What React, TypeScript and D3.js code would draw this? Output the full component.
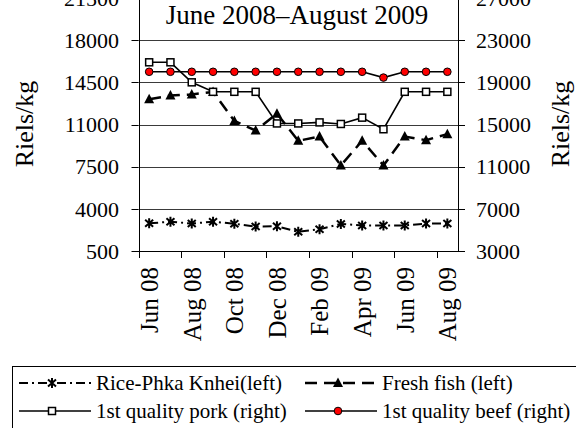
import React, { useRef, useEffect } from "react";
import { select, scaleBand, scaleLinear, line } from "d3";

const months = [
  "Jun 08", "Jul 08", "Aug 08", "Sep 08", "Oct 08", "Nov 08", "Dec 08", "Jan 09",
  "Feb 09", "Mar 09", "Apr 09", "May 09", "Jun 09", "Jul 09", "Aug 09",
];
const labelMonths = ["Jun 08", "Aug 08", "Oct 08", "Dec 08", "Feb 09", "Apr 09", "Jun 09", "Aug 09"];
const leftTicks = [500, 4000, 7500, 11000, 14500, 18000, 21500];
const rightTicks = [3000, 7000, 11000, 15000, 19000, 23000, 27000];

// left axis series
const rice = [2800, 2930, 2780, 2930, 2760, 2530, 2550, 2100, 2300, 2750, 2620, 2620, 2620, 2780, 2780];
const fish = [13100, 13400, 13500, 13700, 11300, 10500, 11900, 9650, 10000, 7600, 9650, 7600, 10000, 9700, 10200];
// right axis series
const pork = [20900, 20900, 19000, 18100, 18100, 18100, 15100, 15100, 15200, 15050, 15650, 14550, 18100, 18100, 18100];
const beef = [20000, 20000, 20000, 20000, 20000, 20000, 20000, 20000, 20000, 20000, 20000, 19450, 20000, 20000, 20000];

const title = "June 2008\u2013August 2009";
const axisTitle = "Riels/kg";

const W = 576;
const H = 428;
const FONT = "Liberation Serif, Times New Roman, Times, DejaVu Serif, serif";

const starPath = "M-4,-3.5L4,3.5M-4,3.5L4,-3.5M0,-5L0,5";
const triPath = "M0,-5.5L5,4L-5,4Z";

const App = () => {
  const ref = useRef(null);

  useEffect(() => {
    const svg = select(ref.current);
    svg.selectAll("*").remove();

    const left = 138.5;
    const right = 458;
    const top = -2;
    const bottom = 251;

    const x = scaleBand().domain(months).range([left, right]).padding(0);
    const cx = (m) => x(m) + x.bandwidth() / 2;
    const yL = scaleLinear().domain([500, 21500]).range([bottom, top]);
    const yR = scaleLinear().domain([3000, 27000]).range([bottom, top]);
    const px = (v) => Math.round(v) + 0.5;

    // gridlines
    svg.append("g")
      .selectAll("line")
      .data(leftTicks)
      .enter()
      .append("line")
      .attr("x1", left)
      .attr("x2", right)
      .attr("y1", (d) => px(yL(d)))
      .attr("y2", (d) => px(yL(d)))
      .attr("stroke", "#3a3a3a")
      .attr("stroke-width", 1);

    // axis lines
    svg.append("line").attr("x1", px(left)).attr("x2", px(left)).attr("y1", top).attr("y2", px(bottom)).attr("stroke", "#000");
    svg.append("line").attr("x1", px(right)).attr("x2", px(right)).attr("y1", top).attr("y2", px(bottom)).attr("stroke", "#000");
    svg.append("line").attr("x1", left - 6).attr("x2", right + 7).attr("y1", px(bottom)).attr("y2", px(bottom)).attr("stroke", "#000");

    // left ticks + labels
    const gl = svg.append("g");
    leftTicks.forEach((t) => {
      gl.append("line").attr("x1", left - 7).attr("x2", left).attr("y1", px(yL(t))).attr("y2", px(yL(t))).attr("stroke", "#000");
      gl.append("text")
        .attr("x", 119)
        .attr("y", yL(t))
        .attr("dy", "0.35em")
        .attr("text-anchor", "end")
        .attr("font-size", 22)
        .attr("fill", "#000")
        .text(t);
    });

    // right ticks + labels
    const gr = svg.append("g");
    rightTicks.forEach((t) => {
      gr.append("line").attr("x1", right).attr("x2", right + 7).attr("y1", px(yR(t))).attr("y2", px(yR(t))).attr("stroke", "#000");
      gr.append("text")
        .attr("x", 476)
        .attr("y", yR(t))
        .attr("dy", "0.35em")
        .attr("text-anchor", "start")
        .attr("font-size", 22)
        .attr("fill", "#000")
        .text(t);
    });

    // x ticks every 2 months
    const gx = svg.append("g");
    months.forEach((m, i) => {
      if (i % 2 === 0) {
        gx.append("line").attr("x1", px(x(m))).attr("x2", px(x(m))).attr("y1", bottom).attr("y2", bottom + 7).attr("stroke", "#000");
      }
    });
    labelMonths.forEach((m) => {
      gx.append("text")
        .attr("transform", `translate(${cx(m)}, 267) rotate(-90)`)
        .attr("dy", "0.35em")
        .attr("text-anchor", "end")
        .attr("font-size", 25)
        .attr("fill", "#000")
        .text(m);
    });

    // axis titles
    svg.append("text")
      .attr("transform", `translate(24, 124) rotate(-90)`)
      .attr("dy", "0.35em")
      .attr("text-anchor", "middle")
      .attr("font-size", 26)
      .text(axisTitle);
    svg.append("text")
      .attr("transform", `translate(560, 124) rotate(-90)`)
      .attr("dy", "0.35em")
      .attr("text-anchor", "middle")
      .attr("font-size", 26)
      .text(axisTitle);

    // title
    svg.append("text")
      .attr("x", 297)
      .attr("y", 24)
      .attr("text-anchor", "middle")
      .attr("font-size", 27)
      .text(title);

    const mkLine = (scale) =>
      line()
        .x((d, i) => cx(months[i]))
        .y((d) => scale(d));

    // rice
    svg.append("path")
      .datum(rice)
      .attr("fill", "none")
      .attr("stroke", "#000")
      .attr("stroke-width", 2)
      .attr("stroke-dasharray", "9,4,2,4")
      .attr("d", mkLine(yL));
    svg.append("g")
      .selectAll("path")
      .data(rice)
      .enter()
      .append("path")
      .attr("transform", (d, i) => `translate(${cx(months[i])}, ${yL(d)})`)
      .attr("d", starPath)
      .attr("stroke", "#000")
      .attr("stroke-width", 2);

    // fish
    svg.append("path")
      .datum(fish)
      .attr("fill", "none")
      .attr("stroke", "#000")
      .attr("stroke-width", 2.5)
      .attr("stroke-dasharray", "12,7")
      .attr("d", mkLine(yL));
    svg.append("g")
      .selectAll("path")
      .data(fish)
      .enter()
      .append("path")
      .attr("transform", (d, i) => `translate(${cx(months[i])}, ${yL(d)})`)
      .attr("d", triPath)
      .attr("fill", "#000");

    // pork
    svg.append("path")
      .datum(pork)
      .attr("fill", "none")
      .attr("stroke", "#000")
      .attr("stroke-width", 1.6)
      .attr("d", mkLine(yR));
    svg.append("g")
      .selectAll("rect")
      .data(pork)
      .enter()
      .append("rect")
      .attr("x", (d, i) => cx(months[i]) - 3.5)
      .attr("y", (d) => yR(d) - 3.5)
      .attr("width", 7)
      .attr("height", 7)
      .attr("fill", "#fff")
      .attr("stroke", "#000")
      .attr("stroke-width", 1.5);

    // beef
    svg.append("path")
      .datum(beef)
      .attr("fill", "none")
      .attr("stroke", "#000")
      .attr("stroke-width", 1.6)
      .attr("d", mkLine(yR));
    svg.append("g")
      .selectAll("circle")
      .data(beef)
      .enter()
      .append("circle")
      .attr("cx", (d, i) => cx(months[i]))
      .attr("cy", (d) => yR(d))
      .attr("r", 3.8)
      .attr("fill", "#ff0000")
      .attr("stroke", "#000")
      .attr("stroke-width", 1);

    // legend
    const lg = svg.append("g");
    lg.append("rect")
      .attr("x", 12.5)
      .attr("y", 366.5)
      .attr("width", 600)
      .attr("height", 100)
      .attr("fill", "none")
      .attr("stroke", "#000");

    const items = [
      { name: "Rice-Phka Knhei(left)", col: 0, row: 0, dash: "9,4,2,4", sw: 2, kind: "star" },
      { name: "Fresh fish (left)", col: 1, row: 0, dash: "12,7", sw: 2.5, kind: "tri" },
      { name: "1st quality pork (right)", col: 0, row: 1, dash: null, sw: 1.6, kind: "square" },
      { name: "1st quality beef (right)", col: 1, row: 1, dash: null, sw: 1.6, kind: "circle" },
    ];
    items.forEach((it) => {
      const x0 = it.col === 0 ? 19 : 305;
      const yy = it.row === 0 ? 383 : 411;
      const l = lg.append("line")
        .attr("x1", x0)
        .attr("x2", x0 + 72)
        .attr("y1", yy)
        .attr("y2", yy)
        .attr("stroke", "#000")
        .attr("stroke-width", it.sw);
      if (it.dash) l.attr("stroke-dasharray", it.dash);
      const mx = x0 + 33;
      if (it.kind === "star") {
        lg.append("path").attr("transform", `translate(${mx}, ${yy})`).attr("d", starPath).attr("stroke", "#000").attr("stroke-width", 2);
      } else if (it.kind === "tri") {
        lg.append("path").attr("transform", `translate(${mx}, ${yy})`).attr("d", triPath).attr("fill", "#000");
      } else if (it.kind === "square") {
        lg.append("rect").attr("x", mx - 3.5).attr("y", yy - 3.5).attr("width", 7).attr("height", 7)
          .attr("fill", "#fff").attr("stroke", "#000").attr("stroke-width", 1.5);
      } else {
        lg.append("circle").attr("cx", mx).attr("cy", yy).attr("r", 3.8)
          .attr("fill", "#ff0000").attr("stroke", "#000");
      }
      lg.append("text")
        .attr("x", x0 + 77)
        .attr("y", yy)
        .attr("dy", "0.35em")
        .attr("font-size", 21)
        .attr("fill", "#000")
        .text(it.name);
    });
  }, []);

  return (
    <svg
      ref={ref}
      width={W}
      height={H}
      fontFamily={FONT}
      style={{ position: "fixed", left: 0, top: 0, background: "#fff" }}
    />
  );
};

export default App;
